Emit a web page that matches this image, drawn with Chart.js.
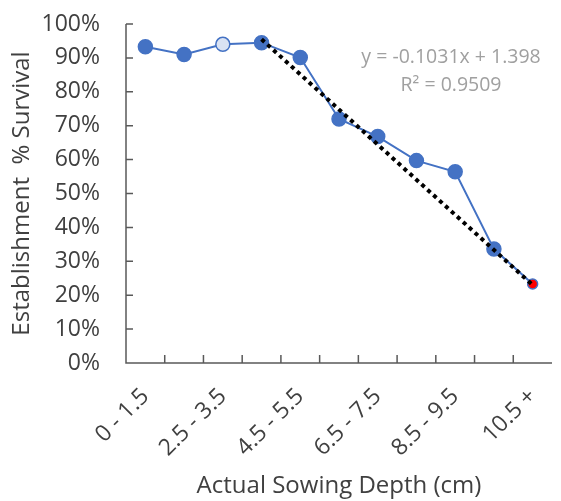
<!DOCTYPE html>
<html>
<head>
<meta charset="utf-8">
<script src="https://cdn.jsdelivr.net/npm/chart.js@4"></script>
<style>
  html, body { margin: 0; padding: 0; background: #fff; }
  #wrap { width: 561px; height: 501px; }
</style>
</head>
<body>
<div id="wrap"><canvas id="myChart" width="561" height="501"></canvas></div>
<script>
// categories (sowing depth bins, cm)
var depths = ["0 - 1.5", "1.5 - 2.5", "2.5 - 3.5", "3.5 - 4.5", "4.5 - 5.5", "5.5 - 6.5",
    "6.5 - 7.5", "7.5 - 8.5", "8.5 - 9.5", "9.5 - 10.5", "10.5 +"];
// survival, %
var survival = [93.3, 91.0, 94.0, 94.5, 90.1, 72.0, 66.8, 59.7, 56.4, 33.6, 23.3];
// linear trend, only its two end points
var trend = [null, null, null, 95.5, null, null, null, null, null, null, 23.0];
var yTicks = [0, 10, 20, 30, 40, 50, 60, 70, 80, 90, 100];
var eqText = ["y = -0.1031x + 1.398", "R\u00b2 = 0.9509"];

var fontName = "'Open Sans', sans-serif";
var txtColor = "#404040";
var axisColor = "#595959";

var pointFill = survival.map(function (v, i) {
    if (i === 2) return "#dae3f3";
    if (i === survival.length - 1) return "#ff0000";
    return "#4472c4";
});
var pointRad = survival.map(function (v, i) {
    return i === survival.length - 1 ? 5 : 7;
});

// draw axis lines, inside tick marks and the trend equation
var extras = {
    id: "extras",
    afterDraw: function (c) {
        var ctx = c.ctx;
        var a = c.chartArea;
        var xs = c.scales.x;
        var ys = c.scales.y;
        ctx.save();
        ctx.strokeStyle = axisColor;
        ctx.lineWidth = 1.5;
        ctx.beginPath();
        ctx.moveTo(a.left, a.top);
        ctx.lineTo(a.left, a.bottom);
        ctx.lineTo(a.right, a.bottom);
        for (var k = 0; k < yTicks.length; k++) {
            var py = ys.getPixelForValue(yTicks[k]);
            ctx.moveTo(a.left, py);
            ctx.lineTo(a.left + 7, py);
        }
        var step = xs.getPixelForValue(1) - xs.getPixelForValue(0);
        for (var i = 0; i < depths.length - 1; i++) {
            var px = xs.getPixelForValue(i) + step / 2;
            ctx.moveTo(px, a.bottom);
            ctx.lineTo(px, a.bottom - 8);
        }
        ctx.stroke();

        ctx.fillStyle = "#a0a0a0";
        ctx.font = "19.5px " + fontName;
        ctx.textAlign = "center";
        ctx.textBaseline = "middle";
        var ex = a.left + (a.right - a.left) * 0.763;
        ctx.fillText(eqText[0], ex, a.top + 33);
        ctx.fillText(eqText[1], ex, a.top + 61);
        ctx.restore();
    }
};

var myChart = document.getElementById("myChart").getContext("2d");
var chart = new Chart(myChart, {
    type: "line",
    data: {
        labels: depths,
        datasets: [
            {
                label: "Trend",
                data: trend,
                spanGaps: true,
                borderColor: "#000000",
                borderWidth: 4,
                borderDash: [4, 4],
                pointRadius: 0,
                order: 0
            },
            {
                label: "Survival",
                data: survival,
                borderColor: "#4472c4",
                borderWidth: 2,
                backgroundColor: pointFill,
                pointBackgroundColor: pointFill,
                pointBorderColor: "#4472c4",
                pointBorderWidth: 1.5,
                pointRadius: pointRad,
                order: 1
            }
        ]
    },
    options: {
        responsive: false,
        animation: false,
        layout: { padding: { left: 2, right: 9, top: 24, bottom: 0 } },
        plugins: {
            legend: { display: false },
            tooltip: { enabled: false }
        },
        scales: {
            x: {
                offset: true,
                grid: { display: false, drawTicks: false },
                border: { display: false },
                afterFit: function (s) {
                    s.height = 138;
                    s.paddingLeft = 0;
                    s.paddingRight = 0;
                },
                ticks: {
                    autoSkip: false,
                    maxRotation: 45,
                    minRotation: 45,
                    padding: 20,
                    color: txtColor,
                    font: { family: fontName, size: 23 },
                    callback: function (v, i) {
                        return i % 2 === 0 ? depths[i] : "";
                    }
                },
                title: {
                    display: true,
                    text: "Actual Sowing Depth (cm)",
                    color: txtColor,
                    font: { family: fontName, size: 24 },
                    padding: { top: 0, bottom: 0 }
                }
            },
            y: {
                min: 0,
                max: 100,
                afterBuildTicks: function (s) {
                    s.ticks = yTicks.map(function (v) { return { value: v }; });
                },
                afterFit: function (s) {
                    s.width = 124;
                    s.paddingTop = 0;
                    s.paddingBottom = 0;
                },
                grid: { display: false, drawTicks: false },
                border: { display: false },
                ticks: {
                    padding: 26,
                    color: txtColor,
                    font: { family: fontName, size: 23 },
                    callback: function (v) { return v + "%"; }
                },
                title: {
                    display: true,
                    text: "Establishment  % Survival",
                    color: txtColor,
                    font: { family: fontName, size: 24 },
                    padding: { top: 6, bottom: 0 }
                }
            }
        }
    },
    plugins: [extras]
});
</script>
</body>
</html>
